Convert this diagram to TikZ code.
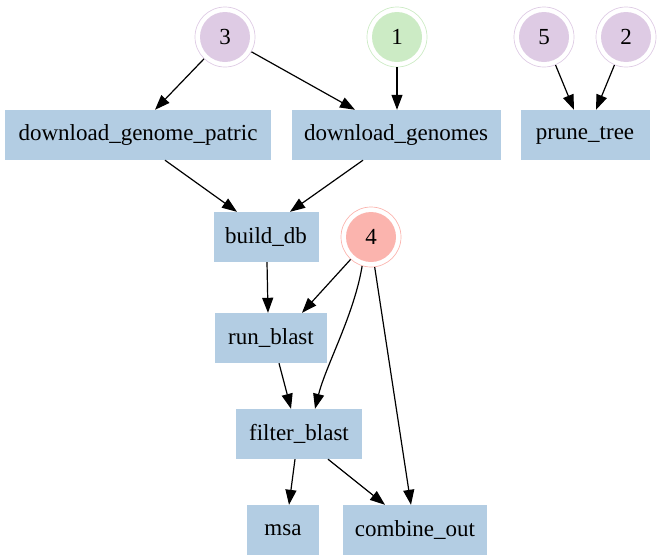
\documentclass[tikz,border=0pt]{standalone}
\usepackage{fontspec}
\setmainfont{Liberation Serif}
\usetikzlibrary{arrows.meta}
\definecolor{boxblue}{HTML}{B3CDE3}
\definecolor{cpurple}{HTML}{DECBE4}
\definecolor{cgreen}{HTML}{CCEBC5}
\definecolor{csalmon}{HTML}{FBB4AE}
\tikzset{
  job/.style={rectangle, fill=boxblue, draw=none, minimum height=50pt, inner sep=0pt, font=\fontsize{23}{27}\selectfont},
  numc/.style={circle, draw=#1, line width=0.7pt, minimum size=60pt, inner sep=0pt, font=\fontsize{23}{27}\selectfont,
    path picture={\fill[#1] (path picture bounding box.center) circle (25pt);}},
  edge/.style={line width=1.2pt, -{Triangle[length=15pt,width=11pt]}},
}
\begin{document}
\begin{tikzpicture}[x=1pt,y=-1pt]
\useasboundingbox (0,0) rectangle (662,560);
\node[numc=cpurple] (n3) at (225,37) {3};
\node[numc=cgreen] (n1) at (397,37) {1};
\node[numc=cpurple] (n5) at (544,37) {5};
\node[numc=cpurple] (n2) at (626,37) {2};
\node[job, minimum width=266pt] (dgp) at (138,135) {download\_genome\_patric};
\node[job, minimum width=209pt] (dg) at (396,135) {download\_genomes};
\node[job, minimum width=129pt] (pt) at (585,135) {prune\_tree};
\node[job, minimum width=105pt] (bdb) at (266,237) {build\_db};
\node[numc=csalmon] (n4) at (371,237) {4};
\node[job, minimum width=112pt] (rb) at (271,338) {run\_blast};
\node[job, minimum width=126pt] (fb) at (299,434) {filter\_blast};
\node[job, minimum width=72pt] (msa) at (283,530) {msa};
\node[job, minimum width=144pt] (co) at (415,530) {combine\_out};
\draw[edge] (n3) -- ([xshift=17pt]dgp.north);
\draw[edge] (n3) -- ([xshift=-41pt]dg.north);
\draw[edge] (n1) -- (dg.north -| n1);
\draw[edge] (n5) -- ([xshift=-11pt]pt.north);
\draw[edge] (n2) -- ([xshift=11pt]pt.north);
\draw[edge] ([xshift=27pt]dgp.south) -- ([xshift=-29pt]bdb.north);
\draw[edge] ([xshift=-33pt]dg.south) -- ([xshift=24pt]bdb.north);
\draw[edge] ([xshift=1pt]bdb.south) -- ([xshift=-3pt]rb.north);
\draw[edge] (n4) -- ([xshift=31pt]rb.north);
\draw[edge] ([xshift=8pt]rb.south) -- ([xshift=-8pt]fb.north);
\draw[edge] (n4.253) .. controls (354,315) and (326,365) .. ([xshift=16pt]fb.north);
\draw[edge] (n4.277) -- ([xshift=-4pt]co.north);
\draw[edge] ([xshift=-4pt]fb.south) -- ([xshift=6pt]msa.north);
\draw[edge] ([xshift=29pt]fb.south) -- ([xshift=-30pt]co.north);
\end{tikzpicture}
\end{document}
